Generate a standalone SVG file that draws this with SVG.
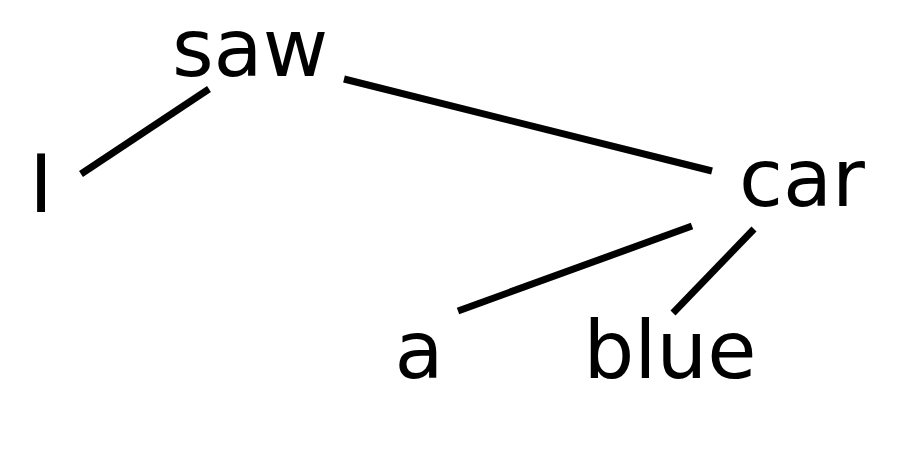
<svg xmlns="http://www.w3.org/2000/svg" width="924" height="449" viewBox="0 0 924 449">
<style>
text{font-family:"DejaVu Sans",sans-serif;font-size:80px;fill:#000;text-anchor:middle}
line{stroke:#000;stroke-width:7;stroke-linecap:butt}
</style>
<rect width="924" height="449" fill="#fff"/>
<g id="edges">
<line x1="209" y1="89" x2="81" y2="174"/>
<line x1="344" y1="79" x2="712" y2="171"/>
<line x1="692" y1="226" x2="458" y2="311"/>
<line x1="754" y1="229" x2="673" y2="313"/>
</g>
<g id="saw"><text x="250" y="76">saw</text></g>
<g id="I"><text x="41" y="212">I</text></g>
<g id="car"><text x="802" y="206">car</text></g>
<g id="a"><text x="419" y="378">a</text></g>
<g id="blue"><text x="670" y="378">blue</text></g>
</svg>
